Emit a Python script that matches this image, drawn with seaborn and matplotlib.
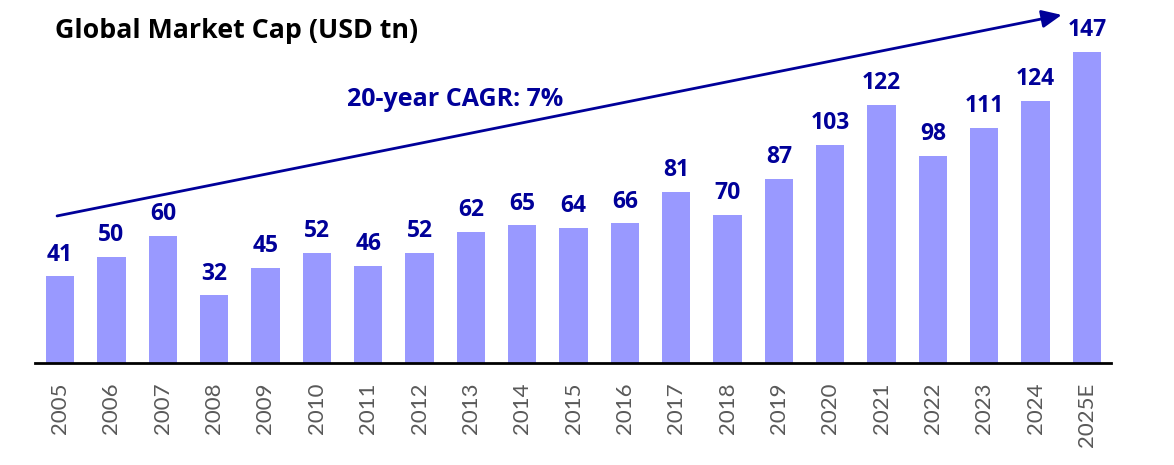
import matplotlib
matplotlib.use("Agg")
import matplotlib.pyplot as plt
import seaborn as sns
import pandas as pd

years = ["2005", "2006", "2007", "2008", "2009", "2010", "2011", "2012", "2013", "2014",
         "2015", "2016", "2017", "2018", "2019", "2020", "2021", "2022", "2023", "2024", "2025E"]
market_cap = [41, 50, 60, 32, 45, 52, 46, 52, 62, 65, 64, 66, 81, 70, 87, 103, 122, 98, 111, 124, 147]
title_text = "Global Market Cap (USD tn)"
cagr_text = "20-year CAGR: 7%"

sns.set_theme(style="white")
plt.rcParams['font.family'] = ['Lato', 'DejaVu Sans']

bar_color = "#9999FF"
navy = "#000099"
bold_font = ["Open Sans", "DejaVu Sans"]

df = pd.DataFrame({"year": years, "cap": market_cap})

fig = plt.figure(figsize=(11.74, 4.65), dpi=100)
ax = fig.add_axes([35 / 1174, 102 / 465, 1076 / 1174, 363 / 465])
sns.barplot(data=df, x="year", y="cap", color=bar_color, width=0.55, saturation=1,
            edgecolor="none", ax=ax)

ax.set_xlim(-0.49, 20.47)
ax.set_ylim(0, 363 / 2.116)
for s in ["top", "right", "left"]:
    ax.spines[s].set_visible(False)
ax.spines["bottom"].set_color("black")
ax.spines["bottom"].set_linewidth(2)
ax.set_yticks([])
ax.set_xlabel("")
ax.set_ylabel("")
ax.tick_params(axis="x", length=0, pad=14, labelsize=16, labelcolor="#595959", rotation=90)

for i, v in enumerate(market_cap):
    ax.annotate(str(v), (i, v), xytext=(0, 7), textcoords="offset points",
                ha="center", va="bottom", fontsize=16.5, fontweight="bold", color=navy,
                family=bold_font)

ax.annotate("", xy=(19.51, 164.5), xytext=(-0.06, 69.5),
            arrowprops=dict(arrowstyle="-|>,head_length=1.0,head_width=0.45",
                            color=navy, lw=2, shrinkA=0, shrinkB=0))
ax.text(7.69, 124.3, cagr_text, ha="center", va="center", fontsize=18,
        fontweight="bold", color=navy, family=bold_font)

fig.text(55 / 1174, 1 - 31 / 465, title_text, ha="left", va="center", fontsize=19.3,
         fontweight="bold", color="black", family=bold_font)

fig.savefig("out.png", dpi=100)
